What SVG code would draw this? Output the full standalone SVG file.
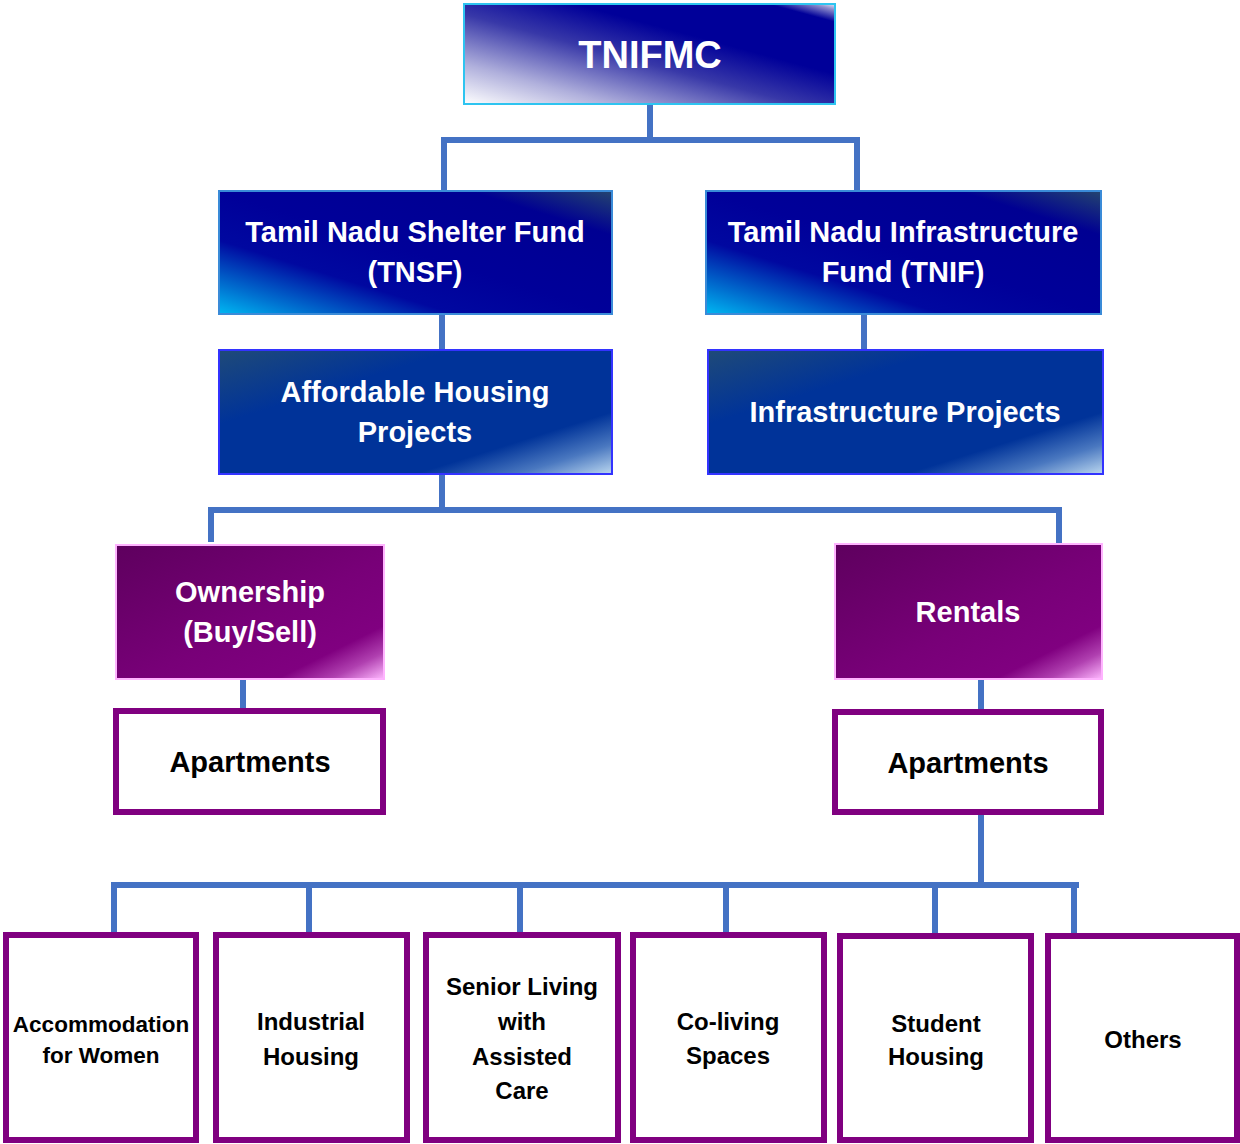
<svg xmlns="http://www.w3.org/2000/svg" width="1240" height="1144" viewBox="0 0 1240 1144">
<defs>
<linearGradient id="gTop" x1="0" y1="1" x2="1" y2="0">
<stop offset="0" stop-color="#FFFFFF"/>
<stop offset="0.2" stop-color="#B0B0DC"/>
<stop offset="0.45" stop-color="#3838A8"/>
<stop offset="0.65" stop-color="#000099"/>
<stop offset="0.91" stop-color="#000099"/>
<stop offset="0.97" stop-color="#8C8CCC"/>
<stop offset="1" stop-color="#E8E8F8"/>
</linearGradient>
<linearGradient id="gFund" x1="0" y1="1" x2="1" y2="0">
<stop offset="0" stop-color="#00B8F2"/>
<stop offset="0.12" stop-color="#0070D0"/>
<stop offset="0.3" stop-color="#0008A0"/>
<stop offset="0.5" stop-color="#000099"/>
<stop offset="0.82" stop-color="#000092"/>
<stop offset="1" stop-color="#24456F"/>
</linearGradient>
<linearGradient id="gProj" x1="0" y1="0" x2="1" y2="1">
<stop offset="0" stop-color="#1F4A78"/>
<stop offset="0.3" stop-color="#003399"/>
<stop offset="0.75" stop-color="#003399"/>
<stop offset="0.88" stop-color="#4A78C0"/>
<stop offset="1" stop-color="#BCD8F0"/>
</linearGradient>
<linearGradient id="gPurp" x1="0" y1="0" x2="1" y2="1">
<stop offset="0" stop-color="#5E005E"/>
<stop offset="0.55" stop-color="#780078"/>
<stop offset="0.8" stop-color="#800080"/>
<stop offset="0.9" stop-color="#B040B0"/>
<stop offset="1" stop-color="#FFB8FF"/>
</linearGradient>
</defs>
<style>
.w{font-family:"Liberation Sans",Arial,sans-serif;font-weight:bold;fill:#FFFFFF;text-anchor:middle;font-size:29px}
.k{font-family:"Liberation Sans",Arial,sans-serif;font-weight:bold;fill:#000000;text-anchor:middle;font-size:29px}
.s{font-family:"Liberation Sans",Arial,sans-serif;font-weight:bold;fill:#000000;text-anchor:middle;font-size:24px}
.leaf{fill:#FFFFFF;stroke:#800080;stroke-width:6}
.conn{fill:none;stroke:#4472C4;stroke-width:6;stroke-linecap:butt;stroke-linejoin:miter}
</style>
<rect width="1240" height="1144" fill="#FFFFFF"/>
<g id="connectors" class="conn">
<path d="M650,104 V140"/>
<path d="M444,190 V140 H857 V190"/>
<path d="M442,315 V350"/>
<path d="M864,315 V350"/>
<path d="M442,475 V510"/>
<path d="M211,542 V510 H1059 V544"/>
<path d="M243,679 V711"/>
<path d="M981,679 V711"/>
<path d="M981,815 V885"/>
<path d="M114,935 V885 H1079"/>
<path d="M309,885 V935"/>
<path d="M520,885 V935"/>
<path d="M726,885 V934"/>
<path d="M935,885 V934"/>
<path d="M1074,885 V934"/>
</g>
<g id="tnifmc">
<rect x="464" y="4" width="371" height="100" fill="url(#gTop)" stroke="#2EC4F0" stroke-width="2"/>
<text class="w" x="650" y="68" style="font-size:38px">TNIFMC</text>
</g>
<g id="tnsf">
<rect x="219" y="191" width="393" height="123" fill="url(#gFund)" stroke="#3A8BD8" stroke-width="2"/>
<text class="w" x="415" y="242">Tamil Nadu Shelter Fund</text>
<text class="w" x="415" y="282">(TNSF)</text>
</g>
<g id="tnif">
<rect x="706" y="191" width="395" height="123" fill="url(#gFund)" stroke="#3A8BD8" stroke-width="2"/>
<text class="w" x="903" y="242">Tamil Nadu Infrastructure</text>
<text class="w" x="903" y="282">Fund (TNIF)</text>
</g>
<g id="affordable">
<rect x="219" y="350" width="393" height="124" fill="url(#gProj)" stroke="#3333FF" stroke-width="2"/>
<text class="w" x="415" y="402">Affordable Housing</text>
<text class="w" x="415" y="442">Projects</text>
</g>
<g id="infra-projects">
<rect x="708" y="350" width="395" height="124" fill="url(#gProj)" stroke="#3333FF" stroke-width="2"/>
<text class="w" x="905" y="422">Infrastructure Projects</text>
</g>
<g id="ownership">
<rect x="116" y="545" width="268" height="134" fill="url(#gPurp)" stroke="#FFB3FF" stroke-width="2"/>
<text class="w" x="250" y="602">Ownership</text>
<text class="w" x="250" y="642">(Buy/Sell)</text>
</g>
<g id="rentals">
<rect x="835" y="544" width="267" height="135" fill="url(#gPurp)" stroke="#FFB3FF" stroke-width="2"/>
<text class="w" x="968" y="622">Rentals</text>
</g>
<g id="apartments-own">
<rect class="leaf" x="116" y="711" width="267" height="101"/>
<text class="k" x="250" y="772">Apartments</text>
</g>
<g id="apartments-rent">
<rect class="leaf" x="835" y="712" width="266" height="100"/>
<text class="k" x="968" y="773">Apartments</text>
</g>
<g id="women">
<rect class="leaf" x="6" y="935" width="190" height="205"/>
<text class="s" x="101" y="1032" style="font-size:22.5px">Accommodation</text>
<text class="s" x="101" y="1063" style="font-size:22.5px">for Women</text>
</g>
<g id="industrial">
<rect class="leaf" x="216" y="935" width="191" height="205"/>
<text class="s" x="311" y="1030">Industrial</text>
<text class="s" x="311" y="1065">Housing</text>
</g>
<g id="senior">
<rect class="leaf" x="426" y="935" width="192" height="205"/>
<text class="s" x="522" y="995">Senior Living</text>
<text class="s" x="522" y="1030">with</text>
<text class="s" x="522" y="1065">Assisted</text>
<text class="s" x="522" y="1099">Care</text>
</g>
<g id="coliving">
<rect class="leaf" x="633" y="935" width="191" height="205"/>
<text class="s" x="728" y="1030">Co-living</text>
<text class="s" x="728" y="1064">Spaces</text>
</g>
<g id="student">
<rect class="leaf" x="840" y="936" width="191" height="204"/>
<text class="s" x="936" y="1032">Student</text>
<text class="s" x="936" y="1065">Housing</text>
</g>
<g id="others">
<rect class="leaf" x="1048" y="936" width="189" height="204"/>
<text class="s" x="1143" y="1048">Others</text>
</g>
</svg>
